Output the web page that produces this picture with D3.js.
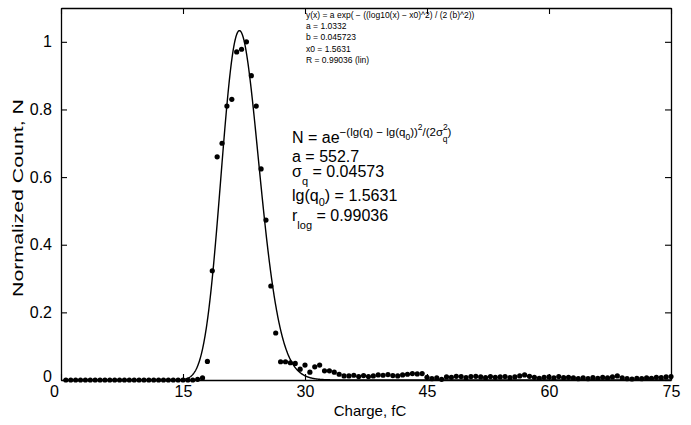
<!DOCTYPE html>
<html>
<head>
<meta charset="utf-8">
<script src="https://cdn.jsdelivr.net/npm/d3@7"></script>
<style>
  html, body { margin: 0; padding: 0; background: #fff; }
  svg { display: block; font-family: "Liberation Sans", Arial, Helvetica, sans-serif; }
</style>
</head>
<body>
<svg id="chart" width="691" height="425"></svg>
<script>
// ---- data ----
const binWidth = 0.6; // fC per bin (fit uses bin index)
// normalized counts for bins k = 1..125 (charge = 0.6*k fC)
const counts = [
  0,0,0,0,0,0,0,0,0,0,
  0,0,0,0,0,0,0,0,0,0,
  0,0,0,0,0,0,0,0.002,0.006,0.055,
  0.323,0.66,0.70,0.81,0.83,0.97,0.978,1.0,0.90,0.81,
  0.624,0.473,0.278,0.139,0.054,0.054,0.051,0.049,0.032,0.044,
  0.023,0.039,0.044,0.027,0.027,0.023,0.017,0.012,0.012,0.014,
  0.010,0.013,0.010,0.012,0.015,0.014,0.016,0.013,0.012,0.015,
  0.017,0.019,0.018,0.019,0.008,0.004,0.006,0.002,0.009,0.008,
  0.011,0.010,0.007,0.010,0.011,0.009,0.007,0.010,0.008,0.009,
  0.010,0.007,0.009,0.012,0.015,0.011,0.008,0.005,0.008,0.009,
  0.006,0.010,0.007,0.008,0.006,0.004,0.006,0.004,0.007,0.005,
  0.008,0.006,0.009,0.012,0.006,0.004,0.003,0.005,0.004,0.006,
  0.005,0.008,0.007,0.009,0.010
];
const fitA = 1.0332, fitB = 0.045723, fitX0 = 1.5631;
const xTicks = [0, 15, 30, 45, 60, 75];
const yTicks = [0, 0.2, 0.4, 0.6, 0.8, 1];
const fitTextLines = [
  "y(x) = a exp( \u2212 ((log10(x) \u2212 x0)^2) / (2 (b)^2))",
  "a = 1.0332",
  "b = 0.045723",
  "x0 = 1.5631",
  "R = 0.99036  (lin)"
];

// ---- layout ----
const svg = d3.select("#chart");
const L = 61, R = 671, T = 8, B = 380;
const x = d3.scaleLinear().domain([0, 75]).range([L, R]);
const y = d3.scaleLinear().domain([0, 1.1]).range([B, T]);

const points = counts.map((v, i) => ({ q: (i + 1) * binWidth, v }));

// fit curve
const fit = q => fitA * Math.exp(-Math.pow(Math.log10(q / binWidth) - fitX0, 2) / (2 * fitB * fitB));
const curve = d3.range(0.3, 75.001, 0.05).map(q => ({ q, v: fit(q) }));

svg.append("path")
  .datum(curve)
  .attr("fill", "none")
  .attr("stroke", "#000")
  .attr("stroke-width", 1.4)
  .attr("d", d3.line().x(d => x(d.q)).y(d => y(d.v)));

// points
svg.append("g").selectAll("circle")
  .data(points)
  .join("circle")
  .attr("cx", d => x(d.q))
  .attr("cy", d => y(d.v))
  .attr("r", 2.6)
  .attr("fill", "#000");

// axes (ticks inward)
const fs = 16;
const gx = svg.append("g").attr("transform", `translate(0,${B})`)
  .call(d3.axisBottom(x).tickValues(xTicks).tickSizeInner(-6).tickSizeOuter(0).tickPadding(6).tickFormat(d3.format("d")));
const gy = svg.append("g").attr("transform", `translate(${L},0)`)
  .call(d3.axisLeft(y).tickValues(yTicks).tickSizeInner(-6).tickSizeOuter(0).tickPadding(9).tickFormat(d => d === 0 ? "0" : d === 1 ? "1" : d3.format(".1f")(d)));
const gt = svg.append("g").attr("transform", `translate(0,${T})`)
  .call(d3.axisTop(x).tickValues(xTicks).tickSizeInner(-6).tickSizeOuter(0).tickFormat(""));
const gr = svg.append("g").attr("transform", `translate(${R},0)`)
  .call(d3.axisRight(y).tickValues(yTicks).tickSizeInner(-6).tickSizeOuter(0).tickFormat(""));

[gx, gy, gt, gr].forEach(g => {
  g.select(".domain").attr("stroke", "#000").attr("stroke-width", 1.3);
  g.selectAll(".tick line").attr("stroke", "#000").attr("stroke-width", 1.1);
  g.selectAll(".tick text").attr("fill", "#000").attr("font-size", fs).attr("font-family", "Liberation Sans, Arial, sans-serif");
});
gy.selectAll(".tick text").filter(d => d === 0).attr("dy", "0.1em");
gx.selectAll(".tick text").filter(d => d === 0).attr("dx", "-7");

// axis titles
svg.append("text")
  .attr("x", 370).attr("y", 416)
  .attr("text-anchor", "middle")
  .attr("font-size", 15)
  .text("Charge, fC");
svg.append("text")
  .attr("transform", "translate(23,198) rotate(-90)")
  .attr("text-anchor", "middle")
  .attr("font-size", 15.5)
  .attr("textLength", 198)
  .attr("lengthAdjust", "spacingAndGlyphs")
  .text("Normalized Count, N");

// small fit text
const ft = svg.append("g").attr("font-size", 8.5);
fitTextLines.forEach((s, i) => {
  ft.append("text").attr("x", 306).attr("y", 18 + i * 11.2).text(s);
});

// big annotation
const ann = svg.append("g").attr("font-size", 16);
const t1 = ann.append("text").attr("x", 292).attr("y", 143);
t1.append("tspan").text("N = ae");
t1.append("tspan").attr("font-size", 11.5).attr("dy", -7).text("\u2212(lg(q) \u2212 lg(q");
t1.append("tspan").attr("font-size", 8.5).attr("dy", 4).text("0");
t1.append("tspan").attr("font-size", 11.5).attr("dy", -4).text("))");
t1.append("tspan").attr("font-size", 8.5).attr("dy", -6).text("2");
t1.append("tspan").attr("font-size", 11.5).attr("dy", 6).text("/(2\u03c3");
t1.append("tspan").attr("font-size", 8.5).attr("dy", -6).text("2");
t1.append("tspan").attr("font-size", 8.5).attr("dx", -5).attr("dy", 12).text("q");
t1.append("tspan").attr("font-size", 11.5).attr("dy", -6).text(")");

ann.append("text").attr("x", 292).attr("y", 162).text("a = 552.7");
const t3 = ann.append("text").attr("x", 292).attr("y", 177);
t3.append("tspan").text("\u03c3");
t3.append("tspan").attr("font-size", 11).attr("dy", 8).text("q");
t3.append("tspan").attr("dy", -8).text(" = 0.04573");
const t4 = ann.append("text").attr("x", 292).attr("y", 201);
t4.append("tspan").text("lg(q");
t4.append("tspan").attr("font-size", 11).attr("dy", 5).text("0");
t4.append("tspan").attr("dy", -5).text(") = 1.5631");
const t5 = ann.append("text").attr("x", 292).attr("y", 221);
t5.append("tspan").text("r");
t5.append("tspan").attr("font-size", 11).attr("dy", 8).text("log");
t5.append("tspan").attr("dy", -8).text(" = 0.99036");
</script>
</body>
</html>
